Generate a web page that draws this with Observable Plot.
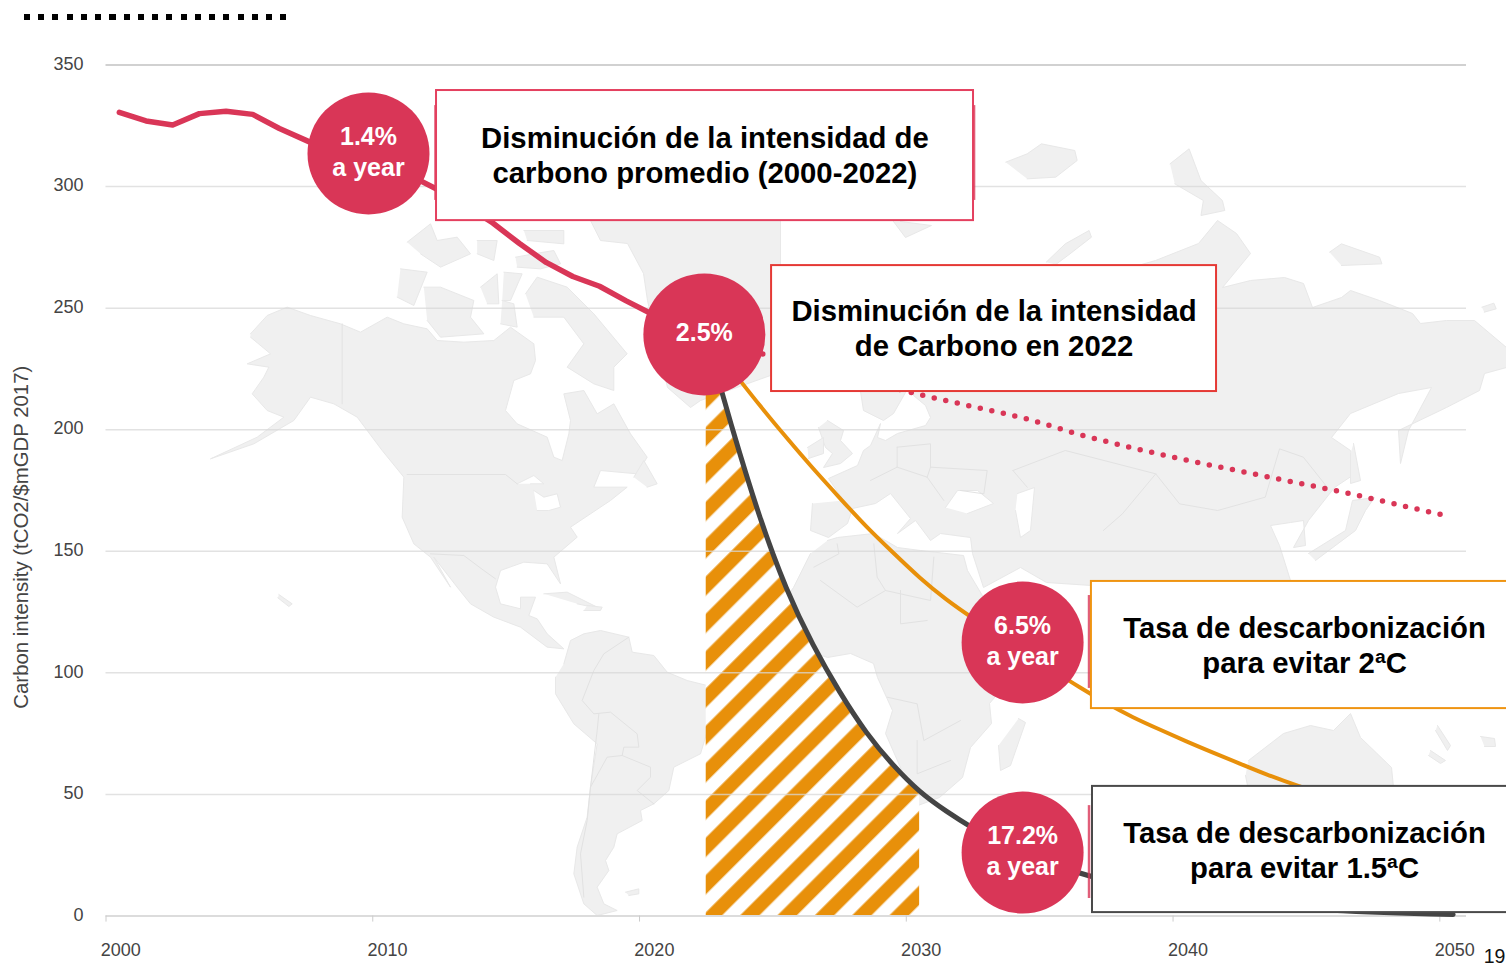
<!DOCTYPE html>
<html lang="es">
<head>
<meta charset="utf-8">
<script src="https://cdn.jsdelivr.net/npm/d3@7"></script>
<script src="https://cdn.jsdelivr.net/npm/@observablehq/plot@0.6"></script>
<style>
html,body{margin:0;padding:0;background:#fff;overflow:hidden;width:1506px;height:963px}
#wrap{position:relative;width:1506px;height:963px;overflow:hidden}
#dashes{position:absolute;z-index:2;left:24px;top:14px;width:262px;height:6px;background:repeating-linear-gradient(90deg,#000 0 6px,transparent 6px 14.25px)}
svg{display:block}
</style>
</head>
<body>
<div id="wrap"><div id="dashes"></div></div>
<script>
// ---- chart values ----
const tickYears = [2000, 2010, 2020, 2030, 2040, 2050];
const tickValues = [0, 50, 100, 150, 200, 250, 300, 350];

const historyYears = [2000,2001,2002,2003,2004,2005,2006,2007,2008,2009,2010,2011,2012,2013,2014,2015,2016,2017,2018,2019,2020,2021,2022];
const historyValues = [330.5,327,325.3,330,331,329.7,323.9,319,314,310.7,307.5,304,298.4,292,285,276.6,268.8,263,259,253,247.4,242.5,238];

const trendYears = [2022,2024,2026,2028,2030,2032,2034,2036,2038,2040,2042,2044,2046,2048,2049.8];
const trendValues = [238,231.5,225,220,214.5,209.5,204.5,198,192.5,187.5,183,178.5,174,169,164.5];

const twoDegYears = [2022,2023,2024,2025,2026,2027,2028,2029,2030,2031,2032,2033,2034,2035,2036,2037,2038,2039,2040,2041,2042,2043,2044,2046,2050];
const twoDegValues = [238,224,210,196.8,184,172,160,149.5,139,130,122.4,115.2,108.2,101,94,87.5,81.6,76.7,71.8,67.2,62.7,58.2,54.1,47,35];

const onePointFiveYears = [2022,2023,2024,2025,2026,2027,2028,2029,2030,2031,2032,2033,2034,2035,2036,2037,2040,2045,2050];
const onePointFiveValues = [238,199.3,163.5,133.9,111.1,91.9,75,61.9,50.8,43,36,30,25.5,21.5,17.5,14.6,7.6,1.9,0.6];

const hatchEndYear = 2030;

const bubbleYears = [2009.34, 2021.93, 2033.86, 2033.86];
const bubbleValues = [313.6, 239.2, 112.5, 26.1];
const bubbleLabels = ["1.4%\na year", "2.5%", "6.5%\na year", "17.2%\na year"];

const boxX1 = [2011.89, 2024.45, 2036.44, 2036.48];
const boxX2 = [2032.02, 2041.13, 2052.15, 2052.15];
const boxY1 = [286, 215.7, 85.3, 1.4];
const boxY2 = [339.5, 267.5, 137.6, 53.3];
const boxColors = ["#e4405f", "#e53935", "#ef9411", "#4a4a4a"];
const boxTextX = [2021.95, 2032.79, 2044.43, 2044.43];
const boxTextY = [313.2, 242.2, 111.8, 27.5];
const boxLabels = [
  "Disminución de la intensidad de\ncarbono promedio (2000-2022)",
  "Disminución de la intensidad\nde Carbono en 2022",
  "Tasa de descarbonización\npara evitar 2ªC",
  "Tasa de descarbonización\npara evitar 1.5ªC"
];

const sideBarX = [2011.85, 2032.04, 2036.35, 2036.35];
const sideBarY1 = [294.3, 294.3, 93.6, 7.2];
const sideBarY2 = [333.3, 333.3, 131.8, 45.4];

// ---- background map outlines, in the map's own sheet units ----
const sheet = (x0, y0, sx, sy, pts) => pts.map(([a, b]) => [x0 + a / sx, y0 + b / sy]);
const northAmerica = sheet(200,220,3,3,[[150,340],[200,285],[260,260],[330,285],[420,310],[480,335],[560,290],[610,310],[680,325],[710,360],[790,365],[880,360],[930,320],[1000,370],[1005,420],[990,460],[940,480],[915,570],[950,610],[1040,650],[1060,710],[1085,720],[1105,640],[1110,600],[1090,520],[1150,510],[1190,580],[1240,550],[1290,640],[1340,710],[1310,760],[1200,750],[1180,800],[1280,800],[1230,840],[1170,880],[1110,920],[1130,950],[1060,1010],[1080,1090],[1040,1030],[970,1025],[900,1050],[885,1100],[900,1150],[960,1165],[960,1130],[1005,1130],[985,1185],[1010,1195],[1040,1240],[1090,1285],[1040,1280],[960,1220],[880,1190],[810,1150],[770,1100],[700,1010],[750,1100],[690,1010],[640,970],[605,890],[610,770],[545,690],[470,590],[400,550],[330,530],[280,600],[160,670],[30,715],[170,650],[250,590],[200,570],[155,520],[190,470],[205,440],[140,430],[210,400],[150,350]]);
const baffin = sheet(200,220,3,3,[[975,220],[1010,170],[1100,200],[1180,280],[1280,400],[1240,440],[1240,510],[1180,490],[1100,440],[1150,370],[1090,290],[1000,290]]);
const victoria = sheet(200,220,3,3,[[670,200],[720,200],[820,240],[810,290],[850,340],[720,350],[680,300]]);
const banks = sheet(200,220,3,3,[[600,145],[680,155],[640,255],[590,230]]);
const arctic1 = sheet(200,220,3,3,[[620,65],[690,10],[710,60],[770,50],[810,100],[720,140],[660,100]]);
const arctic2 = sheet(200,220,3,3,[[830,60],[890,60],[880,120],[830,100]]);
const arctic3 = sheet(200,220,3,3,[[840,200],[890,160],[895,250],[860,250]]);
const arctic4 = sheet(200,220,3,3,[[910,155],[965,160],[930,240],[905,240]]);
const arctic5 = sheet(200,220,3,3,[[905,240],[940,250],[950,320],[900,310]]);
const arctic6 = sheet(200,220,3,3,[[945,110],[1000,100],[1060,90],[1080,130],[1020,145],[950,140]]);
const arctic7 = sheet(200,220,3,3,[[970,30],[1090,30],[1090,70],[980,60]]);
const newfoundland = sheet(200,220,3,3,[[1300,770],[1330,720],[1370,790],[1340,800]]);
const cuba = sheet(200,220,3,3,[[1030,1120],[1100,1115],[1200,1165],[1130,1150]]);
const hispaniola = sheet(200,220,3,3,[[1160,1155],[1205,1160],[1200,1170],[1150,1170]]);
const hawaii = sheet(200,220,3,3,[[235,1122],[275,1150],[265,1158],[232,1132]]);
const greenland = [[590,220],[600,240],[627,243],[643,273],[647,300],[667,387],[690,407],[700,400],[770,375],[780,290],[780,220]];
const southAmerica = sheet(540,620,3,3,[[70,130],[90,60],[130,40],[180,30],[265,50],[275,95],[340,105],[380,155],[440,180],[500,195],[545,235],[520,290],[498,340],[480,400],[400,440],[385,510],[340,550],[300,570],[305,600],[230,640],[220,680],[195,720],[205,750],[170,800],[190,850],[230,870],[170,885],[130,850],[100,760],[110,680],[140,590],[150,500],[170,370],[100,310],[45,220],[45,170]]);
const falkland = sheet(540,620,3,3,[[255,815],[295,805],[295,820],[265,825]]);
const africa = [[827,540],[837,537],[873,533],[897,547],[920,550],[963,555],[967,570],[983,597],[1005,625],[1040,630],[1030,660],[1000,690],[989,703],[991,723],[970,747],[962,777],[939,797],[912,807],[907,783],[885,733],[892,710],[877,677],[873,663],[850,653],[827,657],[807,650],[783,630],[780,605],[793,587],[810,553]];
const madagascar = [[1018,718],[1025,722],[1010,765],[1000,770],[998,745]];
const eurasia = [[812,503],[810,530],[828,537],[847,523],[852,508],[875,503],[890,493],[910,518],[897,533],[915,520],[930,540],[940,533],[970,537],[972,553],[983,587],[1020,567],[1046,582],[1091,585],[1120,620],[1290,600],[1290,580],[1279,545],[1270,525],[1290,522],[1303,520],[1305,545],[1293,547],[1308,520],[1334,487],[1355,473],[1350,450],[1331,437],[1350,413],[1398,393],[1431,387],[1408,430],[1400,463],[1398,430],[1446,407],[1479,390],[1484,373],[1506,367],[1506,347],[1474,320],[1446,320],[1420,323],[1412,313],[1379,300],[1350,290],[1341,297],[1312,307],[1303,283],[1284,277],[1250,280],[1222,287],[1250,253],[1236,233],[1217,220],[1198,243],[1155,260],[1120,270],[1000,380],[915,380],[913,395],[925,405],[930,417],[925,425],[897,433],[885,440],[877,437],[880,423],[870,445],[863,450],[857,465],[828,478],[843,500]];
const scandinavia = [[860,391],[863,410],[883,420],[893,413],[905,392],[905,380],[860,380]];
const iceland = [[900,221],[931,225],[905,237],[893,221]];
const britain = [[827,420],[843,430],[840,440],[852,453],[840,463],[823,467],[832,453],[825,447],[818,427]];
const ireland = [[807,447],[823,437],[823,453],[808,458]];
const japan = [[1308,553],[1345,530],[1352,500],[1374,497],[1365,510],[1355,530],[1315,560]];
const sakhalin = [[1353,443],[1360,480],[1350,483],[1350,453]];
const novayaZemlya = sheet(760,120,2.1,3,[[600,425],[640,370],[690,330],[695,350],[650,400],[620,432]]);
const severnaya = sheet(760,120,2.1,3,[[860,130],[900,85],[925,180],[970,240],[975,270],[925,285],[930,240],[870,190]]);
const franzJosef = sheet(760,120,2.1,3,[[515,125],[560,100],[590,70],[660,90],[665,120],[620,170],[560,175]]);
const newSiberian = sheet(760,120,2.1,3,[[1195,395],[1220,370],[1300,410],[1305,430],[1220,435]]);
const wrangel = sheet(760,120,2.1,3,[[1515,560],[1540,548],[1545,565],[1520,575]]);
const australia = [[1248,760],[1283,733],[1310,725],[1333,730],[1350,713],[1360,737],[1391,767],[1393,787],[1390,830],[1300,810],[1250,800],[1245,775]];
const fiji = [[1480,736],[1494,738],[1495,746],[1484,746]];
const newCaledonia = [[1430,750],[1445,760],[1440,763],[1428,755]];
const vanuatu = [[1437,725],[1450,745],[1447,750],[1435,730]];
const blackSea = [[945,507],[957,490],[977,490],[993,503],[967,513]];
const caspian = [[1017,493],[1034,487],[1030,530],[1020,537],[1015,510]];
const superior = sheet(200,220,3,3,[[950,790],[1000,765],[1030,790],[990,790]]);
const huron = sheet(200,220,3,3,[[1000,810],[1030,830],[1070,820],[1080,860],[1045,870],[1010,870]]);
const landShapes = [northAmerica,baffin,victoria,banks,arctic1,arctic2,arctic3,arctic4,arctic5,arctic6,arctic7,newfoundland,cuba,hispaniola,hawaii,greenland,southAmerica,falkland,africa,madagascar,eurasia,scandinavia,iceland,britain,ireland,japan,sakhalin,novayaZemlya,severnaya,franzJosef,newSiberian,wrangel,australia,fiji,newCaledonia,vanuatu];
const seaShapes = [blackSea, caspian, superior, huron];
const borderLines = [
  sheet(200,220,3,3,[[425,310],[425,550]]),
  sheet(200,220,3,3,[[620,762],[915,762],[950,790]]),
  sheet(200,220,3,3,[[690,1000],[790,1005],[850,1050],[885,1075]]),
  sheet(540,620,3,3,[[265,50],[190,100],[160,150],[125,240],[160,280],[210,275],[290,340],[295,380],[250,380],[245,405],[330,440],[330,470],[290,510],[340,550]]),
  sheet(540,620,3,3,[[175,280],[170,330],[150,500],[140,600],[120,700],[130,830]]),
  sheet(540,620,3,3,[[150,500],[200,410],[245,405]]),
  sheet(540,620,3,3,[[1040,230],[1130,250],[1150,360],[1260,300]]),
  sheet(540,620,3,3,[[1130,360],[1130,460],[1230,420]]),
  sheet(700,390,3,3,[[340,530],[415,490],[410,460]]),
  sheet(700,390,3,3,[[360,570],[470,650],[555,600],[530,560],[520,460]]),
  sheet(700,390,3,3,[[555,600],[690,630],[700,500]]),
  sheet(700,390,3,3,[[600,600],[600,700],[680,690]]),
  sheet(700,390,3,3,[[510,270],[590,230],[590,170]]),
  sheet(700,390,3,3,[[590,170],[690,160],[690,230]]),
  sheet(700,390,3,3,[[690,230],[860,240],[850,310],[780,300]]),
  sheet(700,390,3,3,[[590,230],[680,260],[730,330]]),
  sheet(700,390,3,3,[[680,260],[690,230]]),
  sheet(760,120,2.1,3,[[530,1050],[640,990],[830,1060],[880,1150],[960,1170],[1060,1130],[1090,985],[1140,1010],[1190,1100]]),
  sheet(760,120,2.1,3,[[830,1060],[760,1180],[720,1230]]),
  sheet(760,120,2.1,3,[[530,1050],[560,1100]])
];

// how the map sheet sits on the chart's axes
const sheetToYear = d3.scaleLinear().domain([105.5, 1466]).range([1999.5, 2050.5]);
const sheetToValue = d3.scaleLinear().domain([915.5, 64.5]).range([0, 350]);
const flatten = shapes => shapes.flatMap((s, i) => s.map(([a, b]) => ({i, x: sheetToYear(a), y: sheetToValue(b)})));

const rows = (xs, ys) => xs.map((x, i) => ({x, y: ys[i]}));
const font = "Liberation Sans, Arial, sans-serif";
const ink = "#444";
const orange = "#e8900a";

const plot = Plot.plot({
  width: 1506, height: 963,
  marginLeft: 105.5, marginRight: 40, marginTop: 64.5, marginBottom: 47.5,
  x: {domain: [1999.5, 2050.5]},
  y: {domain: [0, 350]},
  style: {fontFamily: font, background: "#fff", overflow: "hidden"},
  marks: [
    Plot.line(flatten(landShapes), {x: "x", y: "y", z: "i", fill: "#f0f0f0", stroke: "#e8e8e8", strokeWidth: 1}),
    Plot.line(flatten(seaShapes), {x: "x", y: "y", z: "i", fill: "#fff", stroke: "#e8e8e8", strokeWidth: 1}),
    Plot.line(flatten(borderLines), {x: "x", y: "y", z: "i", stroke: "#e2e2e2", strokeWidth: 1}),
    Plot.areaY(rows(onePointFiveYears, onePointFiveValues).filter(d => d.x <= hatchEndYear + 2),
      {x: "x", y: "y", fill: "url(#stripes)", curve: "basis"}),
    Plot.ruleY(tickValues.filter(v => v > 0 && v < 350), {stroke: "#d8d8d8", strokeWidth: 1.5, strokeOpacity: 0.75}),
    Plot.ruleY([350], {stroke: "#c2c2c2", strokeWidth: 1.5}),
    Plot.ruleY([0], {stroke: "#dcdcdc", strokeWidth: 2}),
    Plot.ruleX(tickYears.map(y => y - 0.5), {y1: 0, y2: -2.5, stroke: "#ccc", strokeWidth: 1}),
    Plot.axisY({ticks: tickValues, tickSize: 0, tickPadding: 22.5, label: null, tickFormat: d => String(d), fontSize: 18, dy: -1, fill: ink}),
    Plot.axisX({ticks: tickYears, tickSize: 0, tickPadding: 27, label: null, tickFormat: d => String(d), fontSize: 18, dx: 1.5, fill: ink}),
    Plot.text(["Carbon intensity (tCO2/$mGDP 2017)"], {x: [1996.33], y: [155.8], rotate: -90, fontSize: 20.4, fill: ink}),
    Plot.line(rows(twoDegYears, twoDegValues), {x: "x", y: "y", stroke: orange, strokeWidth: 4, curve: "basis"}),
    Plot.line(rows(onePointFiveYears, onePointFiveValues), {x: "x", y: "y", stroke: "#444", strokeWidth: 5, curve: "basis"}),
    Plot.line(rows(trendYears, trendValues), {x: "x", y: "y", stroke: "#d93657", strokeWidth: 5.5, strokeLinecap: "round", strokeDasharray: "0 11.8", curve: "monotone-x"}),
    Plot.line(rows(historyYears, historyValues), {x: "x", y: "y", stroke: "#d93657", strokeWidth: 5.5, strokeLinejoin: "round"}),
    Plot.dot(rows(bubbleYears, bubbleValues), {x: "x", y: "y", r: 61, fill: "#d93657", stroke: "none"}),
    Plot.text(rows(bubbleYears, bubbleValues), {x: "x", y: "y", text: (d, i) => bubbleLabels[i], dy: -3, fill: "#fff", fontSize: 25, fontWeight: 600, lineHeight: 1.24}),
    Plot.ruleX(rows(sideBarX, sideBarY1), {x: "x", y1: "y", y2: (d, i) => sideBarY2[i], stroke: "#d93657", strokeWidth: 2.5, strokeOpacity: 0.8}),
    Plot.rect(boxX1.map((x, i) => ({i})), {
      x1: d => boxX1[d.i], x2: d => boxX2[d.i], y1: d => boxY1[d.i], y2: d => boxY2[d.i],
      fill: "#fff", stroke: d => boxColors[d.i], strokeWidth: 2
    }),
    Plot.text(rows(boxTextX, boxTextY), {x: "x", y: "y", text: (d, i) => boxLabels[i], fill: "#000", fontSize: 29.3, fontWeight: 700, lineHeight: 1.2}),
    Plot.text(["19"], {x: [2051.55], y: [-16.7], fontSize: 19.5, fill: "#111"})
  ]
});

// stripe pattern for the hatched area
const defs = d3.select(plot).insert("defs", ":first-child");
const period = 37.33 / Math.SQRT2;
const pat = defs.append("pattern")
  .attr("id", "stripes").attr("patternUnits", "userSpaceOnUse")
  .attr("width", period).attr("height", period)
  .attr("patternTransform", "rotate(45)");
pat.append("rect").attr("width", period).attr("height", period).attr("fill", "#fff");
pat.append("rect").attr("x", 13 / Math.SQRT2).attr("width", 19.3 / Math.SQRT2).attr("height", period).attr("fill", orange);

// the hatch stops at its end year: trim the area's right side there
defs.append("clipPath").attr("id", "hatchEnd").append("rect")
  .attr("x", 0).attr("y", 0).attr("width", plot.scale("x").apply(hatchEndYear)).attr("height", 963);
d3.select(plot).selectAll("[fill='url(#stripes)']").attr("clip-path", "url(#hatchEnd)");

document.getElementById("wrap").appendChild(plot);
</script>
</body>
</html>
